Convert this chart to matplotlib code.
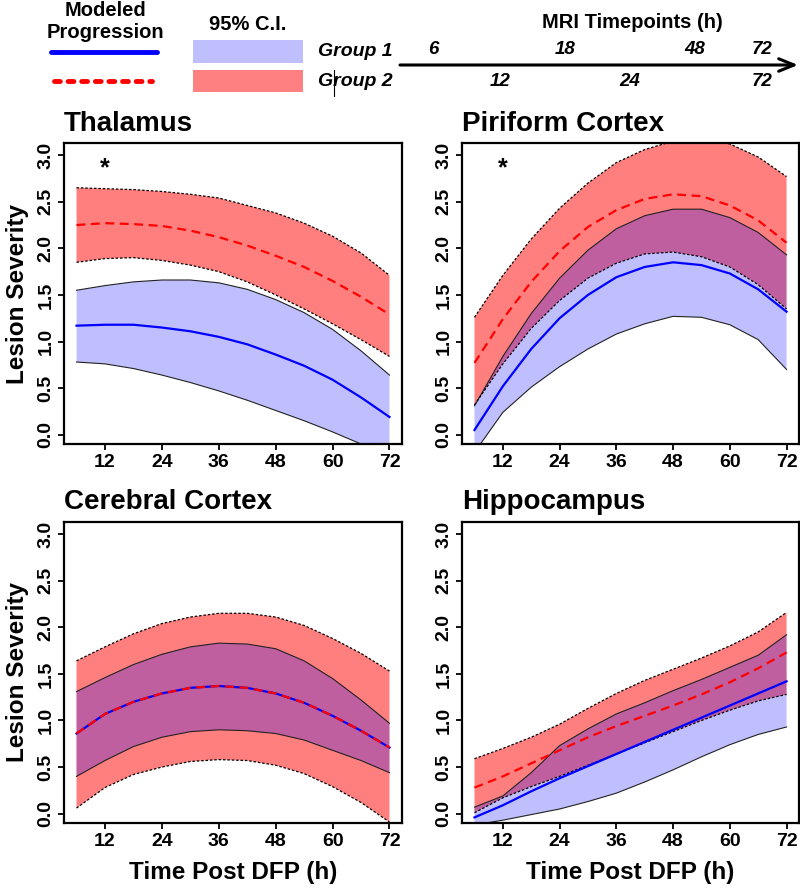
import matplotlib.pyplot as plt
from matplotlib.patches import Rectangle

plt.rcParams['font.family'] = ['Liberation Sans', 'DejaVu Sans']
plt.rcParams['font.weight'] = 'bold'

# time post DFP (h) at which curves were read
hours = [6, 12, 18, 24, 30, 36, 42, 48, 54, 60, 66, 72]
tick_hours = [12, 24, 36, 48, 60, 72]
sev_ticks = [0.0, 0.5, 1.0, 1.5, 2.0, 2.5, 3.0]

# Thalamus
thal_g1_lo = [0.78, 0.76, 0.71, 0.64, 0.56, 0.47, 0.37, 0.26, 0.15, 0.03, -0.10, -0.24]
thal_g1_fit = [1.17, 1.18, 1.18, 1.15, 1.11, 1.05, 0.97, 0.86, 0.74, 0.59, 0.40, 0.19]
thal_g1_hi = [1.55, 1.60, 1.64, 1.66, 1.66, 1.63, 1.56, 1.45, 1.31, 1.13, 0.90, 0.64]
thal_g2_lo = [1.85, 1.89, 1.90, 1.87, 1.82, 1.75, 1.64, 1.50, 1.35, 1.19, 1.02, 0.84]
thal_g2_fit = [2.25, 2.27, 2.26, 2.24, 2.19, 2.12, 2.03, 1.92, 1.80, 1.65, 1.48, 1.29]
thal_g2_hi = [2.65, 2.64, 2.63, 2.61, 2.58, 2.54, 2.46, 2.38, 2.27, 2.13, 1.95, 1.71]

# Piriform Cortex
piri_g1_lo = [-0.19, 0.24, 0.51, 0.73, 0.92, 1.08, 1.19, 1.27, 1.26, 1.18, 1.02, 0.70]
piri_g1_fit = [0.05, 0.52, 0.92, 1.25, 1.50, 1.69, 1.80, 1.85, 1.82, 1.73, 1.56, 1.32]
piri_g1_hi = [0.31, 0.84, 1.30, 1.68, 1.98, 2.21, 2.35, 2.42, 2.42, 2.33, 2.17, 1.93]
piri_g2_lo = [0.32, 0.76, 1.14, 1.44, 1.68, 1.84, 1.94, 1.96, 1.91, 1.80, 1.61, 1.35]
piri_g2_fit = [0.77, 1.24, 1.64, 1.97, 2.23, 2.41, 2.53, 2.58, 2.56, 2.46, 2.30, 2.06]
piri_g2_hi = [1.26, 1.71, 2.10, 2.43, 2.70, 2.92, 3.06, 3.15, 3.17, 3.12, 2.98, 2.77]

# Cerebral Cortex
cere_g1_lo = [0.40, 0.57, 0.72, 0.82, 0.88, 0.90, 0.89, 0.86, 0.79, 0.68, 0.57, 0.44]
cere_g1_fit = [0.86, 1.07, 1.20, 1.29, 1.35, 1.37, 1.35, 1.29, 1.19, 1.05, 0.89, 0.71]
cere_g1_hi = [1.31, 1.46, 1.60, 1.71, 1.79, 1.83, 1.82, 1.77, 1.64, 1.45, 1.22, 0.97]
cere_g2_lo = [0.06, 0.28, 0.42, 0.50, 0.56, 0.58, 0.57, 0.52, 0.43, 0.29, 0.12, -0.09]
cere_g2_fit = [0.86, 1.07, 1.20, 1.29, 1.35, 1.37, 1.35, 1.29, 1.19, 1.05, 0.89, 0.71]
cere_g2_hi = [1.64, 1.79, 1.93, 2.04, 2.11, 2.15, 2.15, 2.11, 2.02, 1.88, 1.72, 1.53]

# Hippocampus
hipp_g1_lo = [-0.12, -0.07, -0.01, 0.05, 0.13, 0.22, 0.34, 0.47, 0.61, 0.74, 0.85, 0.93]
hipp_g1_fit = [-0.04, 0.09, 0.24, 0.38, 0.51, 0.64, 0.77, 0.90, 1.03, 1.16, 1.29, 1.42]
hipp_g1_hi = [0.07, 0.19, 0.44, 0.73, 0.91, 1.07, 1.19, 1.32, 1.44, 1.57, 1.70, 1.92]
hipp_g2_lo = [0.01, 0.17, 0.29, 0.40, 0.52, 0.64, 0.76, 0.88, 1.00, 1.11, 1.21, 1.28]
hipp_g2_fit = [0.28, 0.40, 0.54, 0.68, 0.82, 0.94, 1.05, 1.16, 1.28, 1.41, 1.56, 1.73]
hipp_g2_hi = [0.59, 0.70, 0.82, 0.96, 1.13, 1.29, 1.43, 1.55, 1.67, 1.80, 1.95, 2.16]

# MRI timepoints per group
mri_g1 = ['6', '18', '48', '72']
mri_g2 = ['12', '24', '72']

red_fill = (1, 0, 0, 0.5)
blue_fill = (0, 0, 1, 0.25)


def draw_panel(ax, title, g1, g2, star=False, xlab=False, ylab=False):
    lo1, fit1, hi1 = g1
    lo2, fit2, hi2 = g2
    ax.fill_between(hours, lo2, hi2, facecolor=red_fill, edgecolor='none')
    ax.fill_between(hours, lo1, hi1, facecolor=blue_fill, edgecolor='none')
    for b in (lo1, hi1):
        ax.plot(hours, b, color='#222222', lw=0.8)
    for b in (lo2, hi2):
        ax.plot(hours, b, color='black', lw=0.9, ls=(0, (2, 1.5)))
    ax.plot(hours, fit1, color='blue', lw=1.6)
    ax.plot(hours, fit2, color='red', lw=1.6, ls=(0, (4, 2.5)))
    if star:
        ax.text(12, 2.86, '*', fontsize=18, ha='center', va='center')
    ax.set_xlim(3.36, 74.64)
    ax.set_ylim(-0.1, 3.13)
    ax.set_xticks(tick_hours)
    ax.set_yticks(sev_ticks, labels=['%.1f' % t for t in sev_ticks])
    ax.tick_params(axis='both', length=4, width=1.3, labelsize=14, pad=3)
    for lab in ax.get_yticklabels():
        lab.set_rotation(90)
        lab.set_va('center')
    for s in ax.spines.values():
        s.set_linewidth(1.6)
    ax.set_title(title, loc='left', fontsize=20, fontweight='bold', pad=9)
    if xlab:
        ax.set_xlabel('Time Post DFP (h)', fontsize=17.5, fontweight='bold', labelpad=8)
    if ylab:
        ax.set_ylabel('Lesion Severity', fontsize=17.5, fontweight='bold', labelpad=6)


fig = plt.figure(figsize=(8, 8.9), dpi=100)
ax1 = fig.add_axes([0.08, 0.5011, 0.4225, 0.3382])
ax2 = fig.add_axes([0.5775, 0.5011, 0.4213, 0.3382])
ax3 = fig.add_axes([0.08, 0.0753, 0.4225, 0.3382])
ax4 = fig.add_axes([0.5775, 0.0753, 0.4213, 0.3382])

draw_panel(ax1, 'Thalamus', (thal_g1_lo, thal_g1_fit, thal_g1_hi),
           (thal_g2_lo, thal_g2_fit, thal_g2_hi), star=True, ylab=True)
draw_panel(ax2, 'Piriform Cortex', (piri_g1_lo, piri_g1_fit, piri_g1_hi),
           (piri_g2_lo, piri_g2_fit, piri_g2_hi), star=True)
draw_panel(ax3, 'Cerebral Cortex', (cere_g1_lo, cere_g1_fit, cere_g1_hi),
           (cere_g2_lo, cere_g2_fit, cere_g2_hi), xlab=True, ylab=True)
draw_panel(ax4, 'Hippocampus', (hipp_g1_lo, hipp_g1_fit, hipp_g1_hi),
           (hipp_g2_lo, hipp_g2_fit, hipp_g2_hi), xlab=True)

# legend strip along the top, in pixel coords
lg = fig.add_axes([0, 0, 1, 1])
lg.set_xlim(0, 800)
lg.set_ylim(890, 0)
lg.axis('off')

lg.text(105, 10, 'Modeled', fontsize=14.5, ha='center', va='center')
lg.text(105, 32, 'Progression', fontsize=14.5, ha='center', va='center')
lg.plot([51, 157], [52, 52], color='blue', lw=3.5, solid_capstyle='round')
lg.plot([54, 152], [81, 81], color='red', lw=3.5, ls=(0, (1.2, 1.6)),
        dash_capstyle='round')

lg.text(248, 25, '95% C.I.', fontsize=14.5, ha='center', va='center')
lg.add_patch(Rectangle((193, 40), 110, 23, facecolor='#BFBFFF', edgecolor='none'))
lg.add_patch(Rectangle((193, 70), 110, 22, facecolor='#FF8080', edgecolor='none'))
lg.text(318, 52, 'Group 1', fontsize=14, style='italic', va='center')
lg.text(318, 81, 'Group 2', fontsize=14, style='italic', va='center')
lg.plot([334, 334], [70, 96], color='black', lw=0.8)

lg.text(632, 23, 'MRI Timepoints (h)', fontsize=14.5, ha='center', va='center')
lg.annotate('', xy=(798, 65), xytext=(400, 65),
            arrowprops=dict(arrowstyle='->,head_length=1.1,head_width=0.45',
                            lw=2.2, color='black', shrinkA=0, shrinkB=0))
for lab, xp in zip(mri_g1, [433, 565, 695, 762]):
    lg.text(xp, 50, lab, fontsize=13.5, style='italic', ha='center', va='center')
for lab, xp in zip(mri_g2, [500, 630, 762]):
    lg.text(xp, 81, lab, fontsize=13.5, style='italic', ha='center', va='center')

fig.savefig('out.png', dpi=100)
